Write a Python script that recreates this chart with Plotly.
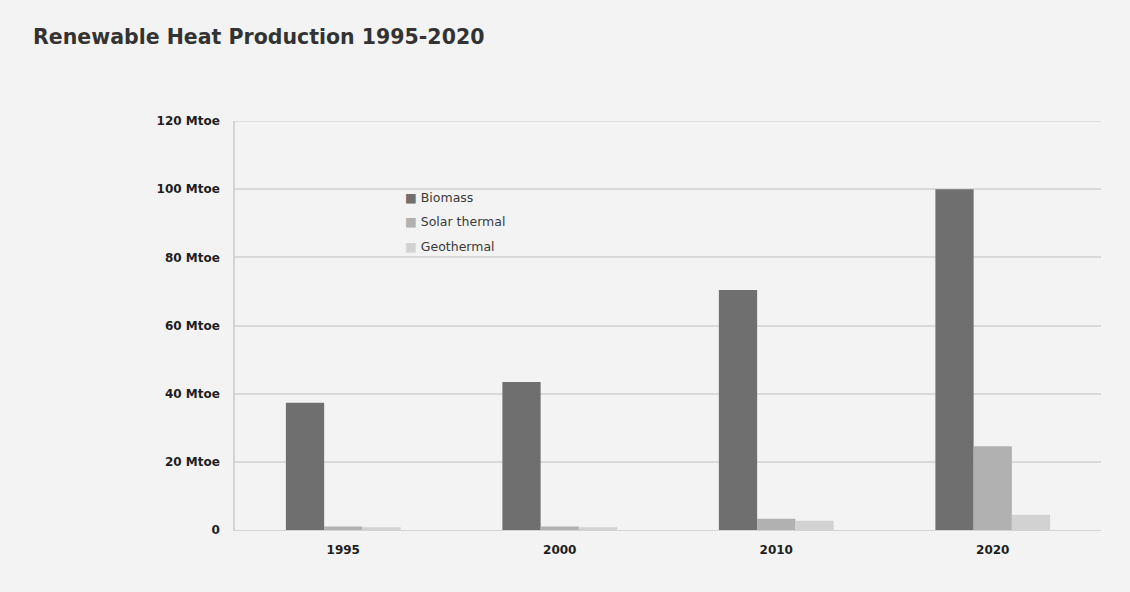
import plotly.graph_objects as go

years = ["1995", "2000", "2010", "2020"]
biomass = [37.3, 43.4, 70.4, 100.0]
solar_thermal = [1.0, 1.0, 3.3, 24.6]
geothermal = [0.8, 0.8, 2.7, 4.5]
tick_vals = [0, 20, 40, 60, 80, 100, 120]
tick_text = ["0", "20 Mtoe", "40 Mtoe", "60 Mtoe", "80 Mtoe", "100 Mtoe", "120 Mtoe"]
series_names = ["Biomass", "Solar thermal", "Geothermal"]
series_colors = ["#6f6f6f", "#b1b1b1", "#d2d2d2"]
series_values = [biomass, solar_thermal, geothermal]

fig = go.Figure()
for name, vals, col in zip(series_names, series_values, series_colors):
    fig.add_trace(go.Bar(
        x=years, y=vals, name=name, showlegend=False,
        marker=dict(color=col, line=dict(width=0)),
    ))

# legend drawn as annotations (small squares + text)
legend_y = [97.7, 90.6, 83.3]
for name, col, ly in zip(series_names, series_colors, legend_y):
    fig.add_annotation(
        xref="paper", yref="y", x=(403 - 235) / 866, y=ly,
        xanchor="left", yanchor="middle", showarrow=False,
        text=f"<span style='color:{col}'>■</span> {name}",
        font=dict(size=12.5, family="DejaVu Sans", color="#3a3a3a"),
    )

tickfont = dict(size=12, family="DejaVu Sans", color="#1e1e1e", weight="bold")
fig.update_layout(
    width=1130, height=592,
    margin=dict(l=235, r=29, t=121, b=62),
    paper_bgcolor="#f3f3f3", plot_bgcolor="rgba(0,0,0,0)",
    barmode="group", bargap=0.47, bargroupgap=0,
    font=dict(family="DejaVu Sans", color="#222222"),
    title=dict(text="<b>Renewable Heat Production 1995-2020</b>",
               x=33/1130, xanchor="left", y=1-37/592, yanchor="middle",
               font=dict(size=20.5, family="DejaVu Sans", color="#333333")),
    xaxis=dict(type="category", showgrid=False, showline=True, linecolor="#d4d4d4", linewidth=1,
               ticks="", tickfont=tickfont, ticklabelstandoff=9),
    yaxis=dict(range=[0, 120], tickvals=tick_vals, ticktext=tick_text,
               showgrid=True, gridcolor="#d9d9d9", gridwidth=1.5,
               showline=True, linecolor="#d4d4d4", linewidth=1.5, zeroline=False,
               ticks="", ticklabelstandoff=11, tickfont=tickfont),
)
fig.add_shape(type="line", xref="paper", yref="y", x0=0, x1=1, y0=120, y1=120,
              line=dict(color="#d9d9d9", width=1.5), layer="below")

fig.write_html("out.html")
